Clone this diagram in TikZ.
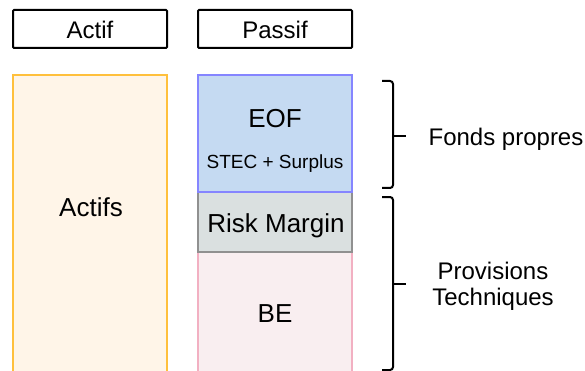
\documentclass[tikz,border=0pt]{standalone}
\usepackage{fontspec}
\setmainfont{Liberation Sans}
\definecolor{actfill}{HTML}{FFF5E8}
\definecolor{actdraw}{HTML}{FFC03C}
\definecolor{eoffill}{HTML}{C5DAF2}
\definecolor{eofdraw}{HTML}{8585FF}
\definecolor{rmfill}{HTML}{DAE0E0}
\definecolor{rmdraw}{HTML}{909090}
\definecolor{befill}{HTML}{F9EEF0}
\definecolor{bedraw}{HTML}{F2B0C2}
\tikzset{
  hdr/.style={draw=black, line width=2pt, rounded corners=1pt, minimum width=154pt, minimum height=38pt, inner sep=0pt},
  blk/.style={line width=2pt, minimum width=154pt, inner sep=0pt},
  big/.style={font=\fontsize{24}{26}\selectfont, inner sep=0pt, anchor=base},
  blktxt/.style={font=\fontsize{26}{28}\selectfont, inner sep=0pt, anchor=base},
  small/.style={font=\fontsize{19}{21}\selectfont, inner sep=0pt, anchor=base},
  brace/.style={line width=2pt, rounded corners=3pt}
}
\begin{document}
\begin{tikzpicture}[x=1pt,y=-1pt]
\useasboundingbox (0,0) rectangle (585,371);
\clip (0,0) rectangle (585,371);
% headers
\node[hdr] (hactif) at (90,29) {};
\node[hdr] (hpassif) at (275,29) {};
\node[big] (tactif) at (90,39) {Actif};
\node[big] (tpassif) at (275,39) {Passif};
% blocks
\node[blk, draw=actdraw, fill=actfill, minimum height=302pt] (actifs) at (90,226) {};
\node[blk, draw=bedraw, fill=befill, minimum height=124pt] (be) at (275,314) {};
\node[blk, draw=rmdraw, fill=rmfill, minimum height=60pt] (rm) at (275,222) {};
\node[blk, draw=eofdraw, fill=eoffill, minimum height=117pt] (eof) at (275,133.5) {};
% texts
\node[blktxt] (tactifs) at (91,216.5) {Actifs};
\node[blktxt] (teof) at (275,128) {EOF};
\node[small] (tstec) at (275,169) {STEC + Surplus};
\node[blktxt] (trm) at (276,232.5) {Risk Margin};
\node[blktxt] (tbe) at (275,322.5) {BE};
% braces
\coordinate (b1t) at (382,81);
\coordinate (b1m) at (393,136);
\coordinate (b1tip) at (406,136);
\coordinate (b1b) at (382,188);
\draw[brace] (b1t) -- (393,81) -- (b1m) -- (393,188) -- (b1b);
\draw[line width=2pt] (b1m) -- (b1tip);
\coordinate (b2t) at (382,197);
\coordinate (b2m) at (393,284);
\coordinate (b2tip) at (406,284);
\coordinate (b2b) at (382,370);
\draw[brace] (b2t) -- (393,197) -- (b2m) -- (393,370) -- (b2b);
\draw[line width=2pt] (b2m) -- (b2tip);
% labels
\node[big] (fp) at (506,145.5) {Fonds propres};
\node[big] (prov) at (493,279.5) {Provisions};
\node[big] (tech) at (493,305) {Techniques};
\end{tikzpicture}
\end{document}
